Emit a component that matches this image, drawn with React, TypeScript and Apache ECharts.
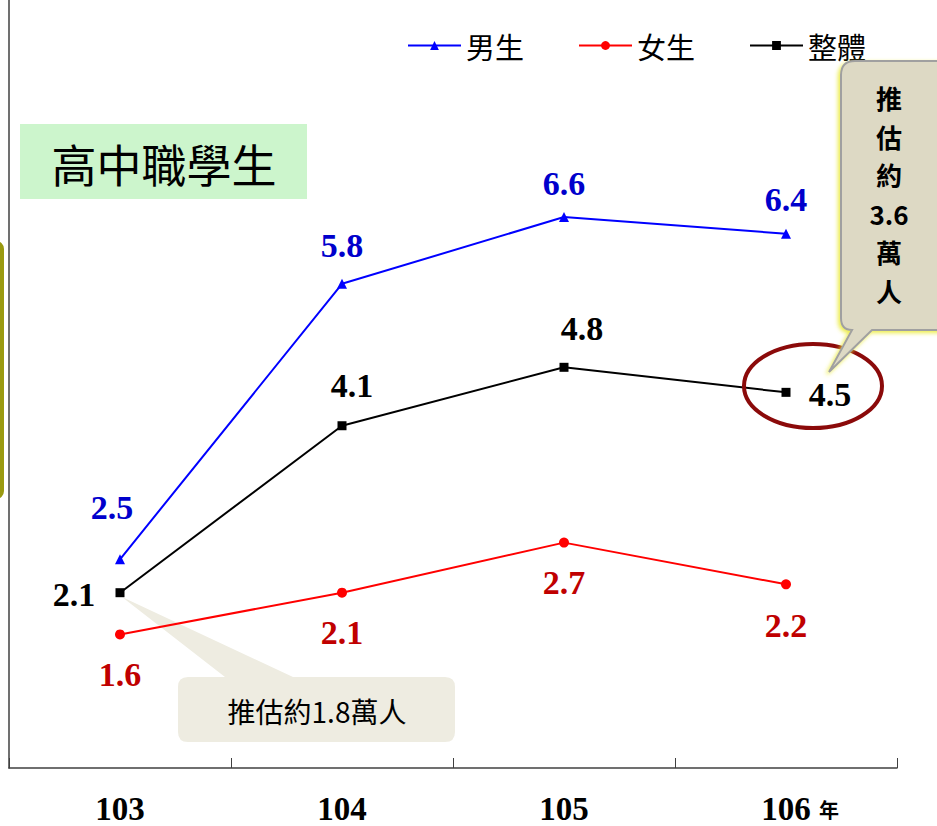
import React, { useEffect, useRef } from "react";
import * as echarts from "echarts";

// School years and student counts (萬人)
const years = ["103", "104", "105", "106"];
const male = [2.5, 5.8, 6.6, 6.4];
const female = [1.6, 2.1, 2.7, 2.2];
const overall = [2.1, 4.1, 4.8, 4.5];

// label placement around each point: [dx, dy]
const maleOffsets = [[-8, -52], [0, -38], [0, -34], [0, -34]];
const femaleOffsets = [[0, 40], [0, 40], [0, 40], [0, 41]];
const overallOffsets = [[-46, 2], [10, -40], [18, -39], [44, 2]];

const NUM_FONT = "'Liberation Serif', 'Times New Roman', serif";
const CJK_FONT = "'Noto Sans CJK TC', 'Noto Sans CJK SC', sans-serif";

// callout shapes
echarts.graphic.registerShape(
  "calloutTall",
  echarts.graphic.extendPath(
    "M 855 61 H 950 V 330 H 872 L 829 372 L 852 330 Q 841 330 841 318 V 75 Q 841 61 855 61 Z",
    {}
  )
);
echarts.graphic.registerShape(
  "calloutWide",
  echarts.graphic.extendPath(
    "M 188 677 H 225 L 122 597 L 293 677 H 445 Q 455 677 455 687 V 732 Q 455 742 445 742 H 188 Q 178 742 178 732 V 687 Q 178 677 188 677 Z",
    {}
  )
);

function withLabels(values: number[], offsets: number[][], color: string) {
  return values.map((v, i) => ({
    value: v,
    label: {
      show: true,
      position: "inside",
      offset: offsets[i],
      formatter: (p: any) => Number(p.value).toFixed(1),
      color,
      fontFamily: NUM_FONT,
      fontWeight: "bold",
      fontSize: 34,
    },
  }));
}

export default function App() {
  const ref = useRef<HTMLDivElement>(null);

  useEffect(() => {
    if (!ref.current) return;
    const chart = echarts.init(ref.current, undefined, { renderer: "svg" });
    chart.setOption({
      animation: false,
      backgroundColor: "#ffffff",
      grid: { left: 9, right: 40, top: 0, bottom: 58, containLabel: false },
      legend: {
        left: 402,
        top: 26,
        itemWidth: 53,
        itemHeight: 11,
        itemGap: 54,
        textStyle: { fontFamily: CJK_FONT, fontSize: 29, color: "#000" },
        data: ["男生", "女生", "整體"],
      },
      xAxis: {
        type: "category",
        data: years,
        boundaryGap: true,
        axisLine: { show: true, lineStyle: { color: "#404040", width: 1.5 } },
        axisTick: { show: true, inside: true, length: 10, lineStyle: { color: "#404040" } },
        axisLabel: {
          margin: 27,
          // the unit "年" trails the last year; a blank lead keeps the number centred on its tick
          formatter: (v: string, i: number) =>
            i === years.length - 1 ? `{s|}{n|${v} }{u|年}` : `{n|${v}}`,
          rich: {
            s: { width: 28, lineHeight: 28 },
            n: {
              fontFamily: NUM_FONT,
              fontWeight: "bold",
              fontSize: 33,
              lineHeight: 28,
              color: "#000",
            },
            u: {
              fontFamily: CJK_FONT,
              fontWeight: "bold",
              fontSize: 20,
              lineHeight: 28,
              color: "#000",
            },
          },
        },
        splitLine: { show: false },
      },
      yAxis: {
        type: "value",
        min: 0,
        max: 9.2,
        axisLine: { show: true, lineStyle: { color: "#404040", width: 1.5 } },
        axisTick: { show: false },
        axisLabel: { show: false },
        splitLine: { show: false },
      },
      series: [
        {
          name: "男生",
          type: "line",
          z: 3,
          data: withLabels(male, maleOffsets, "#0000cc"),
          itemStyle: { color: "#0000ff" },
          lineStyle: { color: "#0000ff", width: 2 },
          symbol: "triangle",
          symbolSize: 10,
        },
        {
          name: "女生",
          type: "line",
          z: 3,
          data: withLabels(female, femaleOffsets, "#c00000"),
          itemStyle: { color: "#ff0000" },
          lineStyle: { color: "#ff0000", width: 2 },
          symbol: "circle",
          symbolSize: 10,
        },
        {
          name: "整體",
          type: "line",
          z: 3,
          data: withLabels(overall, overallOffsets, "#000000"),
          itemStyle: { color: "#000000" },
          lineStyle: { color: "#000000", width: 2 },
          symbol: "rect",
          symbolSize: 9,
        },
      ],
      graphic: [
        // olive panel peeking in from the left edge
        {
          type: "rect",
          z: 1,
          shape: { x: -30, y: 243, width: 32, height: 254, r: 6 },
          style: { fill: "#ffffff", stroke: "#999910", lineWidth: 4 },
        },
        // title tag
        {
          type: "rect",
          z: 1,
          shape: { x: 20, y: 124, width: 287, height: 75 },
          style: { fill: "#ccf5cc" },
        },
        {
          type: "text",
          z: 2,
          style: {
            text: "高中職學生",
            x: 164,
            y: 163,
            align: "center",
            verticalAlign: "middle",
            fontFamily: CJK_FONT,
            fontSize: 45,
            fill: "#000",
          },
        },
        // lower callout
        {
          type: "calloutWide",
          z: 0,
          style: { fill: "#eeece1" },
        },
        {
          type: "text",
          z: 1,
          style: {
            text: "推估約1.8萬人",
            x: 317,
            y: 711,
            align: "center",
            verticalAlign: "middle",
            fontFamily: CJK_FONT,
            fontSize: 28,
            fill: "#000",
          },
        },
        // highlight ring around the latest overall value
        {
          type: "ellipse",
          z: 5,
          shape: { cx: 813, cy: 386, rx: 69, ry: 42 },
          style: { fill: "none", stroke: "#8b0a0a", lineWidth: 4 },
        },
        // upper callout
        {
          type: "calloutTall",
          z: 10,
          style: {
            fill: "#ddd9c4",
            stroke: "#a0a0a0",
            lineWidth: 2,
            shadowColor: "rgba(235,235,60,0.95)",
            shadowBlur: 4,
            shadowOffsetX: -2,
            shadowOffsetY: 2,
          },
        },
        {
          type: "text",
          z: 11,
          style: {
            text: "推\n估\n約\n3.6\n萬\n人",
            x: 889,
            y: 194,
            align: "center",
            verticalAlign: "middle",
            lineHeight: 38.6,
            fontFamily: CJK_FONT,
            fontWeight: "bold",
            fontSize: 26,
            fill: "#000",
          },
        },
      ],
    });
    return () => chart.dispose();
  }, []);

  return (
    <div
      ref={ref}
      style={{ position: "absolute", left: 0, top: 0, width: 937, height: 826 }}
    />
  );
}
